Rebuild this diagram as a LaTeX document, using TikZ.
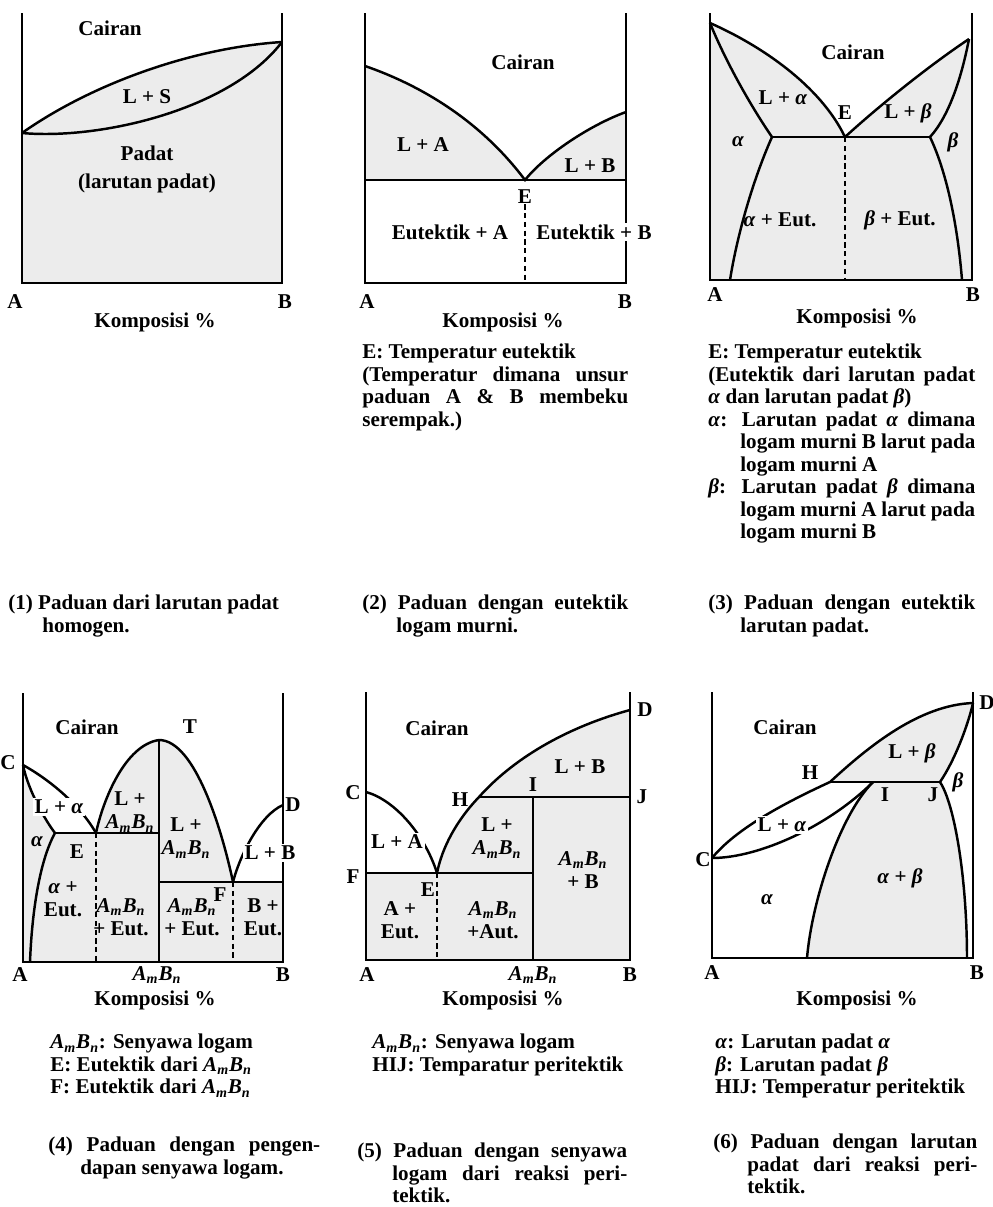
\documentclass[tikz,border=0pt]{standalone}
\usepackage{fontspec}
\setmainfont{Liberation Serif}
\usepackage{tikz}
\definecolor{PDFill}{HTML}{ECECEC}
\newcommand{\AmBn}{\textit{A\textsubscript{m}B\textsubscript{n}}}
\newcommand{\alf}{\textit{α}}
\newcommand{\bet}{\textit{β}}
\setlength{\parindent}{0pt}
\tolerance=10000
\hbadness=10000
\hyphenpenalty=10000

\begin{document}
\begin{tikzpicture}[x=0.02cm,y=-0.02cm,
  font=\fontsize{12}{12.8}\selectfont\bfseries,
  axis/.style={line width=0.9pt},
  curve/.style={line width=1.4pt},
  eut/.style={line width=1pt,dash pattern=on 3pt off 2pt},
  lbl/.style={inner sep=0pt},
  lblw/.style={inner sep=1pt,fill=white},
  two/.style={inner sep=0pt,align=center,font=\fontsize{12}{13.2}\selectfont\bfseries},
  txt/.style={anchor=north west,inner sep=0pt,align=justify,text width=#1}]
\useasboundingbox (0,0) rectangle (993,1207);
\coordinate (m1A) at (22,133);
\coordinate (m1B) at (282,42);
\fill[PDFill] (22,283) -- (m1A) .. controls (90,85) and (190,48) .. (m1B) -- (282,283) -- cycle;
\draw[curve] (m1A) .. controls (90,85) and (190,48) .. (m1B);
\draw[curve] (m1A) .. controls (100,140) and (230,110) .. (m1B);
\draw[axis] (22,13) -- (22,283) -- (282,283) -- (282,13);
\node[lbl] (p1cair) at (110,28) {Cairan};
\node[lbl] (p1ls) at (147,97) {L + S};
\node[lbl] (p1pad) at (147,153) {Padat};
\node[lbl] (p1lar) at (147,183) {(larutan padat)};
\node[lbl] (p1a) at (15,302) {A};
\node[lbl] (p1b) at (285,302) {B};
\node[lbl] (p1komp) at (155,322) {Komposisi \%};
\node[txt=5.8cm] (k1) at (8,595) {\hangindent=0.68cm\hangafter=1 (1) Paduan dari larutan padat\newline homogen.\par};

\coordinate (m2A) at (365,66);
\coordinate (m2B) at (626,112);
\coordinate (e2) at (525,180);
\fill[PDFill] (365,180) -- (m2A) .. controls (420,85) and (480,120) .. (e2) .. controls (545,155) and (590,125) .. (m2B) -- (626,180) -- cycle;
\draw[curve] (m2A) .. controls (420,85) and (480,120) .. (e2) .. controls (545,155) and (590,125) .. (m2B);
\draw[curve] (365,180) -- (626,180);
\draw[axis] (365,13) -- (365,283) -- (626,283) -- (626,13);
\node[lbl] (p2cair) at (523,62) {Cairan};
\node[lbl] (p2la) at (423,145) {L + A};
\node[lbl] (p2lb) at (590,166) {L + B};
\node[lbl] (p2e) at (525,197) {E};
\draw[eut] (p2e.south) -- (525,283);
\node[lbl] (p2ea) at (450,232) {Eutektik + A};
\node[lblw] (p2eb) at (594,232) {Eutektik + B};
\node[lbl] (p2a) at (367,302) {A};
\node[lbl] (p2b) at (625,302) {B};
\node[lbl] (p2komp) at (503,322) {Komposisi \%};
\node[txt=5.32cm] (n2) at (362,344) {E: Temperatur eutektik\par
(Temperatur dimana unsur\linebreak paduan A \& B membeku\linebreak serempak.)\par};
\node[txt=5.32cm] (k2) at (362,595) {\hangindent=0.68cm\hangafter=1 (2) Paduan dengan eutektik\linebreak logam murni.\par};

\coordinate (m3A) at (710,23);
\coordinate (m3B) at (969,39);
\coordinate (e3) at (845,137);
\coordinate (s3a) at (772,137);
\coordinate (s3b) at (930,137);
\fill[PDFill] (710,280) -- (m3A) .. controls (760,45) and (820,85) .. (e3) .. controls (880,105) and (930,65) .. (m3B) -- (972,39) -- (972,280) -- cycle;
\draw[curve] (m3A) .. controls (760,45) and (820,85) .. (e3) .. controls (880,105) and (930,65) .. (m3B);
\draw[curve] (m3A) .. controls (725,60) and (750,105) .. (s3a);
\draw[curve] (s3b) .. controls (950,115) and (962,75) .. (m3B);
\draw[curve] (s3a) -- (s3b);
\draw[curve] (s3a) .. controls (755,175) and (738,230) .. (730,280);
\draw[curve] (s3b) .. controls (948,175) and (958,230) .. (962,280);
\draw[eut] (e3) -- (845,280);
\draw[axis] (710,13) -- (710,280) -- (972,280) -- (972,13);
\node[lbl] (p3cair) at (853,52) {Cairan};
\node[lbl] (p3la) at (783,98) {L + \alf};
\node[lbl] (p3e) at (845,113) {E};
\node[lbl] (p3lb) at (908,113) {L + \bet};
\node[lbl] (p3al) at (738,142) {\alf};
\node[lbl] (p3be) at (953,142) {\bet};
\node[lbl] (p3ae) at (780,220) {\alf{} + Eut.};
\node[lbl] (p3bt) at (900,220) {\bet{} + Eut.};
\node[lbl] (p3a) at (715,295) {A};
\node[lbl] (p3b) at (973,295) {B};
\node[lbl] (p3komp) at (857,318) {Komposisi \%};
\node[txt=5.34cm] (n3) at (708,344) {E: Temperatur eutektik\par
(Eutektik dari larutan padat\linebreak \alf{} dan larutan padat \bet)\par
\hangindent=0.64cm\hangafter=1 \alf: Larutan padat \alf{} dimana\linebreak logam murni B larut pada\linebreak logam murni A\par
\hangindent=0.64cm\hangafter=1 \bet: Larutan padat \bet{} dimana\linebreak logam murni A larut pada\linebreak logam murni B\par};
\node[txt=5.34cm] (k3) at (708,595) {\hangindent=0.64cm\hangafter=1 (3) Paduan dengan eutektik\linebreak larutan padat.\par};

\coordinate (c4) at (23,765);
\coordinate (s4) at (55,833);
\coordinate (e4) at (96,833);
\coordinate (t4) at (159,740);
\coordinate (f4) at (233,882);
\coordinate (d4) at (283,805);
\fill[PDFill] (23,962) -- (c4) .. controls (28,790) and (45,820) .. (s4) -- (e4) .. controls (103,800) and (125,745) .. (t4) .. controls (195,740) and (222,830) .. (f4) -- (283,882) -- (283,962) -- cycle;
\draw[curve] (c4) .. controls (50,780) and (80,805) .. (e4);
\draw[curve] (c4) .. controls (28,790) and (45,820) .. (s4);
\draw[curve] (s4) .. controls (40,860) and (32,910) .. (30,962);
\draw[curve] (s4) -- (159,833);
\draw[curve] (e4) .. controls (103,800) and (125,745) .. (t4) .. controls (195,740) and (222,830) .. (f4);
\draw[curve] (t4) -- (159,962);
\draw[curve] (159,882) -- (283,882);
\draw[curve] (f4) .. controls (240,855) and (260,815) .. (d4);
\draw[eut] (e4) -- (96,962);
\draw[eut] (f4) -- (233,962);
\draw[axis] (23,693) -- (23,962) -- (283,962) -- (283,693);
\node[lbl] (p4cair) at (87,727) {Cairan};
\node[lbl] (p4t) at (190,727) {T};
\node[lbl] (p4c) at (8,763) {C};
\node[lblw] (p4la) at (59,807) {L + \alf};
\node[two] (p4lm1) at (130,812) {L +\\\AmBn};
\node[two] (p4lm2) at (186,838) {L +\\\AmBn};
\node[lbl] (p4d) at (293,805) {D};
\node[lbl] (p4al) at (37,842) {\alf};
\node[lbl] (p4e) at (77,852) {E};
\node[lblw] (p4lb) at (270,853) {L + B};
\node[lbl] (p4f) at (220,895) {F};
\node[two] (p4ae) at (63,899) {\alf{} +\\Eut.};
\node[two] (p4me1) at (121,917) {\AmBn\\+ Eut.};
\node[two] (p4me2) at (192,917) {\AmBn\\+ Eut.};
\node[two] (p4be) at (263,917) {B +\\Eut.};
\node[lbl] (p4a) at (20,975) {A};
\node[lbl] (p4m) at (157,975) {\AmBn};
\node[lbl] (p4b) at (283,975) {B};
\node[lbl] (p4komp) at (155,1000) {Komposisi \%};
\node[txt=5.6cm] (n4) at (50,1034) {\AmBn: Senyawa logam\par E: Eutektik dari \AmBn\par F: Eutektik dari \AmBn\par};
\node[txt=5.44cm] (k4) at (48,1137) {\hangindent=0.64cm\hangafter=1 (4) Paduan dengan pengen-\linebreak dapan senyawa logam.\par};

\coordinate (c5) at (366,792);
\coordinate (f5) at (366,873);
\coordinate (e5) at (437,873);
\coordinate (h5) at (479,797);
\coordinate (i5) at (533,797);
\coordinate (j5) at (630,797);
\coordinate (d5) at (630,710);
\fill[PDFill] (366,960) -- (f5) -- (e5) .. controls (442,848) and (456,821) .. (h5) .. controls (512,760) and (564,728) .. (d5) -- (630,960) -- cycle;
\draw[curve] (c5) .. controls (395,800) and (425,835) .. (e5);
\draw[curve] (e5) .. controls (442,848) and (456,821) .. (h5) .. controls (512,760) and (564,728) .. (d5);
\draw[curve] (f5) -- (533,873);
\draw[curve] (h5) -- (j5);
\draw[curve] (i5) -- (533,960);
\draw[eut] (e5) -- (437,960);
\draw[axis] (366,692) -- (366,960) -- (630,960) -- (630,692);
\node[lbl] (p5cair) at (437,728) {Cairan};
\node[lbl] (p5d) at (645,710) {D};
\node[lbl] (p5lb) at (580,767) {L + B};
\node[lbl] (p5c) at (353,793) {C};
\node[lbl] (p5h) at (460,800) {H};
\node[lbl] (p5i) at (533,785) {I};
\node[lbl] (p5j) at (642,797) {J};
\node[lblw] (p5la) at (397,842) {L + A};
\node[two] (p5lm) at (497,838) {L +\\\AmBn};
\node[two] (p5mb) at (583,870) {\AmBn\\+ B};
\node[lbl] (p5f) at (353,877) {F};
\node[lbl] (p5e) at (428,890) {E};
\node[two] (p5ae) at (400,920) {A +\\Eut.};
\node[two] (p5ma) at (493,920) {\AmBn\\+Aut.};
\node[lbl] (p5a) at (367,975) {A};
\node[lbl] (p5m) at (533,975) {\AmBn};
\node[lbl] (p5b) at (630,975) {B};
\node[lbl] (p5komp) at (503,1000) {Komposisi \%};
\node[txt=5.6cm] (n5) at (372,1034) {\AmBn: Senyawa logam\par HIJ: Temparatur peritektik\par};
\node[txt=5.4cm] (k5) at (357,1143) {\hangindent=0.7cm\hangafter=1 (5) Paduan dengan senyawa\linebreak logam dari reaksi peri-\linebreak tektik.\par};

\coordinate (c6) at (712,858);
\coordinate (h6) at (830,782);
\coordinate (i6) at (873,782);
\coordinate (j6) at (940,782);
\coordinate (d6) at (973,703);
\fill[PDFill] (h6) .. controls (870,745) and (920,705) .. (d6) .. controls (968,725) and (955,760) .. (j6) -- cycle;
\fill[PDFill] (i6) -- (j6) .. controls (955,805) and (967,880) .. (967,958) -- (807,958) .. controls (812,900) and (840,815) .. (i6) -- cycle;
\draw[curve] (c6) .. controls (735,830) and (780,805) .. (h6) .. controls (870,745) and (920,705) .. (d6);
\draw[curve] (c6) .. controls (760,858) and (830,825) .. (i6);
\draw[curve] (h6) -- (j6);
\draw[curve] (j6) .. controls (955,760) and (968,725) .. (d6);
\draw[curve] (i6) .. controls (840,815) and (812,900) .. (807,958);
\draw[curve] (j6) .. controls (955,805) and (967,880) .. (967,958);
\draw[axis] (712,692) -- (712,958) -- (973,958) -- (973,692);
\node[lbl] (p6cair) at (785,727) {Cairan};
\node[lbl] (p6d) at (987,703) {D};
\node[lbl] (p6lb) at (912,753) {L + \bet};
\node[lbl] (p6h) at (810,773) {H};
\node[lbl] (p6be) at (958,782) {\bet};
\node[lbl] (p6i) at (885,795) {I};
\node[lbl] (p6j) at (933,795) {J};
\node[lblw] (p6la) at (782,825) {L + \alf};
\node[lbl] (p6c) at (703,860) {C};
\node[lbl] (p6ab) at (900,878) {\alf{} + \bet};
\node[lbl] (p6al) at (767,900) {\alf};
\node[lbl] (p6a) at (712,973) {A};
\node[lbl] (p6b) at (977,973) {B};
\node[lbl] (p6komp) at (857,1000) {Komposisi \%};
\node[txt=5.2cm] (n6) at (715,1034) {\alf: Larutan padat \alf\par \bet: Larutan padat \bet\par HIJ: Temperatur peritektik\par};
\node[txt=5.28cm] (k6) at (713,1134) {\hangindent=0.68cm\hangafter=1 (6) Paduan dengan larutan\linebreak padat dari reaksi peri-\linebreak tektik.\par};
\end{tikzpicture}
\end{document}
